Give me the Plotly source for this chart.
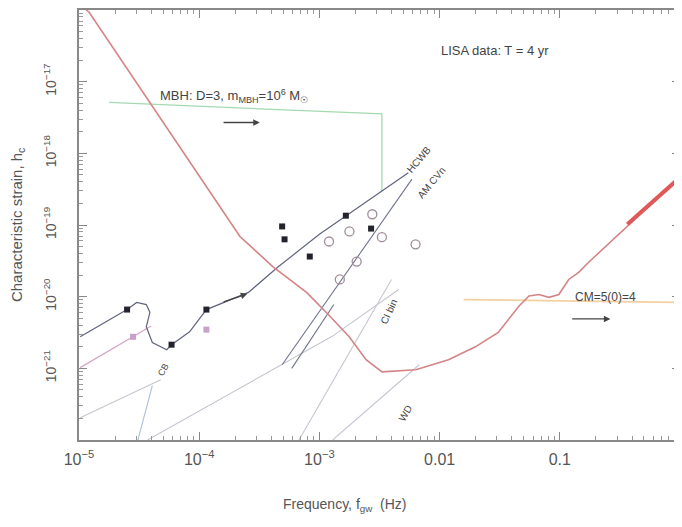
import numpy as np
import plotly.graph_objects as go

# ---- data (log10 of frequency [Hz] and log10 of characteristic strain) ----
lisa_logf = [-4.99, -4.917, -3.661, -3.388, -3.107, -2.942, -2.752, -2.612, -2.479, -2.198,
             -1.926, -1.702, -1.512, -1.339, -1.256, -1.174, -1.091, -1.008, -0.926, -0.843,
             -0.760, -0.016]
lisa_logh = [-15.92, -16.03, -19.16, -19.58, -19.94, -20.22, -20.56, -20.88, -21.05, -21.02,
             -20.88, -20.70, -20.50, -20.13, -19.99, -19.97, -20.01, -19.97, -19.76, -19.66,
             -19.52, -18.36]
lisa_thick_logf = [-0.438, -0.016]
lisa_thick_logh = [-18.99, -18.36]

mbh_logf = [-4.75, -2.48, -2.48]
mbh_logh = [-17.29, -17.45, -18.53]

cm_logf = [-1.80, 0.0]
cm_logh = [-20.04, -20.08]

hcwb_logf = [-4.99, -4.60, -4.52, -4.44, -4.41, -4.44, -4.39, -4.27, -4.23, -4.08, -3.94,
             -3.59, -3.34, -3.00, -2.26]
hcwb_logh = [-20.56, -20.18, -20.08, -20.11, -20.22, -20.42, -20.64, -20.74, -20.67, -20.49,
             -20.18, -19.94, -19.58, -19.13, -18.27]

pink_logf = [-4.99, -4.55, -4.40]
pink_logh = [-20.99, -20.56, -20.41]

amcvn_logf = [-3.31, -2.23]
amcvn_logh = [-20.95, -18.36]
amcvn2_logf = [-3.23, -2.88]
amcvn2_logh = [-21.00, -20.11]

grey_tracks = {
    "g1": ([-4.99, -4.32], [-21.69, -21.16]),
    "g2": ([-4.51, -4.39], [-22.00, -21.24]),
    "g3": ([-4.43, -2.89, -2.34], [-22.00, -20.55, -19.90]),
    "g4": ([-3.17, -2.40], [-22.00, -19.76]),
    "g5": ([-2.89, -2.17], [-22.00, -20.95]),
}

filled_logf = [-4.60, -4.23, -3.94, -3.31, -3.29, -3.08, -2.78, -2.57]
filled_logh = [-20.18, -20.67, -20.18, -19.02, -19.20, -19.44, -18.87, -19.05]

open_logf = [-2.92, -2.75, -2.56, -2.69, -2.48, -2.83, -2.20]
open_logh = [-19.23, -19.09, -18.85, -19.51, -19.17, -19.76, -19.27]

pinksq_logf = [-4.55, -3.94]
pinksq_logh = [-20.56, -20.46]

x_tickvals = [1e-5, 1e-4, 1e-3, 1e-2, 1e-1]
x_ticktext = ["10<sup>−5</sup>", "10<sup>−4</sup>", "10<sup>−3</sup>", "0.01", "0.1"]
y_tickvals = [1e-21, 1e-20, 1e-19, 1e-18, 1e-17]
y_ticktext = ["10<sup>−21</sup>", "10<sup>−20</sup>", "10<sup>−19</sup>", "10<sup>−18</sup>", "10<sup>−17</sup>"]


def P(a):
    return 10.0 ** np.array(a)


fig = go.Figure()


def line(lf, lh, color, width=1.2, dash=None):
    fig.add_trace(go.Scatter(x=P(lf), y=P(lh), mode="lines",
                             line=dict(color=color, width=width, dash=dash),
                             showlegend=False, hoverinfo="skip"))


for k, (lf, lh) in grey_tracks.items():
    line(lf, lh, "#c6c6d2" if k != "g2" else "#a8c0dc", 1.1)

line(mbh_logf, mbh_logh, "#a6d8b0", 1.3)
line(cm_logf, cm_logh, "#f2d0a0", 1.8)
line(pink_logf, pink_logh, "#d8a6c6", 1.3)
line(hcwb_logf, hcwb_logh, "#60647e", 1.2)
line(amcvn_logf, amcvn_logh, "#70748e", 1.1)
line(amcvn2_logf, amcvn2_logh, "#70748e", 1.1)
line(lisa_logf, lisa_logh, "#d48486", 1.6)
line(lisa_thick_logf, lisa_thick_logh, "#e05858", 4)

fig.add_trace(go.Scatter(x=P(open_logf), y=P(open_logh), mode="markers",
                         marker=dict(symbol="circle-open", size=9, color="#a08c98",
                                     line=dict(width=1.3)),
                         showlegend=False, hoverinfo="skip"))
fig.add_trace(go.Scatter(x=P(pinksq_logf), y=P(pinksq_logh), mode="markers",
                         marker=dict(symbol="square", size=6, color="#c8a0c8"),
                         showlegend=False, hoverinfo="skip"))
fig.add_trace(go.Scatter(x=P(filled_logf), y=P(filled_logh), mode="markers",
                         marker=dict(symbol="square", size=6, color="#23232e"),
                         showlegend=False, hoverinfo="skip"))

txt = "#555"
fam = "Liberation Sans, Arial, sans-serif"

anns = [
    dict(x=-1.537, y=-16.57, text="LISA data: T = 4 yr", size=13, angle=0, xa="center"),
    dict(x=-4.339, y=-17.20, text="MBH: D=3, m<sub>MBH</sub>=10<sup>6</sup> M<sub>☉</sub>",
         size=13, angle=0, xa="left"),
    dict(x=-0.893, y=-20.0, text="CM=5(0)=4", size=12, angle=0, xa="left"),
    dict(x=-2.174, y=-18.08, text="HCWB", size=10, angle=-50, xa="center"),
    dict(x=-2.066, y=-18.41, text="AM CVn", size=10, angle=-50, xa="center"),
    dict(x=-2.42, y=-20.21, text="CI bin", size=10, angle=-65, xa="center"),
    dict(x=-2.28, y=-21.62, text="WD", size=10, angle=-60, xa="center"),
    dict(x=-4.30, y=-21.02, text="CB", size=9, angle=-60, xa="center"),
]
for a in anns:
    fig.add_annotation(x=a["x"], y=a["y"], xref="x", yref="y", text=a["text"],
                       showarrow=False, textangle=a["angle"], xanchor=a["xa"],
                       font=dict(size=a["size"], family=fam, color="#444"))

arrows = [(-3.81, -17.57, -3.496, -17.57), (-0.909, -20.31, -0.579, -20.31),
          (-3.81, -20.08, -3.60, -19.96)]
for x0, y0, x1, y1 in arrows:
    fig.add_annotation(x=x1, y=y1, ax=x0, ay=y0, xref="x", yref="y", axref="x", ayref="y",
                       showarrow=True, arrowhead=2, arrowsize=1, arrowwidth=1.3,
                       arrowcolor="#444", text="")

fig.add_annotation(x=0.443, y=-0.151, xref="paper", yref="paper",
                   text="Frequency, f<sub>gw</sub>  (Hz)", showarrow=False,
                   font=dict(size=14, family=fam, color=txt), yanchor="middle")
fig.add_annotation(x=-0.103, y=0.5, xref="paper", yref="paper",
                   text="Characteristic strain, h<sub>c</sub>", showarrow=False,
                   textangle=-90, font=dict(size=15, family=fam, color=txt),
                   xanchor="center", yanchor="middle")

minor_x = [m * 10.0 ** e for e in range(-5, 0) for m in range(2, 10)]
minor_y = [m * 10.0 ** e for e in range(-22, -16) for m in range(2, 10)]

fig.update_xaxes(type="log", range=[-5, 0], tickvals=x_tickvals, ticktext=x_ticktext,
                 ticks="inside", ticklen=8, tickwidth=1.2, tickcolor="#888",
                 showline=True, linecolor="#888", linewidth=1.5, mirror="ticks",
                 showgrid=False, zeroline=False, automargin=False, ticklabelstandoff=4,
                 minor=dict(tickvals=minor_x, ticks="inside", ticklen=4, tickcolor="#999",
                            showgrid=False),
                 tickfont=dict(size=16, family=fam, color=txt))
fig.update_yaxes(type="log", range=[-22, -16], tickvals=y_tickvals, ticktext=y_ticktext,
                 ticks="inside", ticklen=8, tickwidth=1.2, tickcolor="#888",
                 showline=True, linecolor="#888", linewidth=1.5, mirror="ticks",
                 showgrid=False, zeroline=False, tickangle=-90, automargin=False,
                 ticklabelstandoff=16,
                 minor=dict(tickvals=minor_y, ticks="inside", ticklen=4, tickcolor="#999",
                            showgrid=False),
                 tickfont=dict(size=14, family=fam, color=txt))

fig.update_layout(width=674, height=511, margin=dict(l=71, r=2, t=2, b=79),
                  plot_bgcolor="white", paper_bgcolor="white", showlegend=False)

fig.write_html("out.html")
